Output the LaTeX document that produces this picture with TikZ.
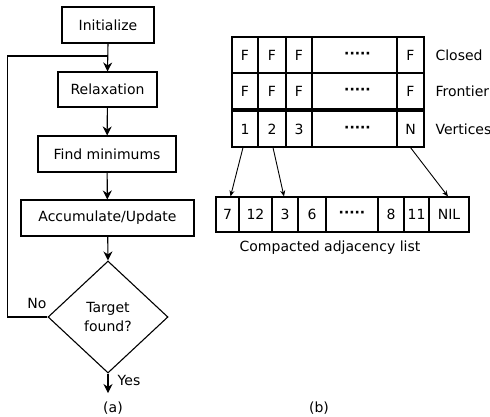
\documentclass[tikz,border=0pt]{standalone}
\usepackage{fontspec}
\setmainfont{DejaVu Sans}
\usetikzlibrary{shapes.geometric,arrows.meta}
\begin{document}
\begin{tikzpicture}[x=1pt,y=-1pt,
  every node/.style={font=\fontsize{14}{19.5}\selectfont},
  box/.style={draw, line width=1.1pt, inner sep=0pt, minimum height=36pt},
  cell/.style={draw, line width=1.1pt, inner sep=0pt, minimum height=36pt},
  flow/.style={line width=1.1pt, -{Stealth[length=9pt,width=9pt]}},
  link/.style={line width=0.9pt, -{Stealth[length=6pt,width=5pt]}},
  plain/.style={line width=1.1pt}]
\useasboundingbox (0,0) rectangle (490,416);
% flowchart
\node[box, minimum width=92pt] (init) at (108,25) {Initialize};
\node[box, minimum width=99pt, minimum height=35pt] (relax) at (107.5,89.5) {Relaxation};
\node[box, minimum width=138pt] (findmin) at (107,154) {Find minimums};
\node[box, minimum width=173pt] (accum) at (107.5,218) {Accumulate/Update};
\node[draw, diamond, line width=1.1pt, inner sep=0pt, minimum width=120pt, minimum height=112pt, align=center] (dia) at (108,317) {Target\\found?};
\coordinate (join) at (108,56);
\coordinate (out) at (108,393);
\draw[flow] (init.south) -- (relax.north);
\draw[flow] (relax) -- (findmin);
\draw[flow] (findmin) -- (accum);
\draw[flow] (accum) -- (dia.north);
\draw[flow] (dia.south) -- (out);
\draw[plain] (dia.west) -- ++(-40,0) |- (join);
\node (no) at (37,303) {No};
\node (yes) at (129,380) {Yes};
\node (capa) at (113,408) {(a)};
% table
\node[cell, minimum width=26pt] (c1) at (245,55) {F};
\node[cell, minimum width=28pt] (c2) at (272,55) {F};
\node[cell, minimum width=26pt] (c3) at (299,55) {F};
\node[cell, minimum width=85pt] (c4) at (354.5,55) {\hspace{6pt}\textbf{·····}};
\node[cell, minimum width=27pt] (c5) at (410.5,55) {F};
\node[cell, minimum width=26pt] (f1) at (245,91) {F};
\node[cell, minimum width=28pt] (f2) at (272,91) {F};
\node[cell, minimum width=26pt] (f3) at (299,91) {F};
\node[cell, minimum width=85pt] (f4) at (354.5,91) {\hspace{6pt}\textbf{·····}};
\node[cell, minimum width=27pt] (f5) at (410.5,91) {F};
\node[cell, minimum width=26pt] (v1) at (245,129) {1};
\node[cell, minimum width=28pt] (v2) at (272,129) {2};
\node[cell, minimum width=26pt] (v3) at (299,129) {3};
\node[cell, minimum width=85pt] (v4) at (354.5,129) {\hspace{6pt}\textbf{·····}};
\node[cell, minimum width=27pt] (v5) at (410.5,129) {N};
\node[anchor=west] (closed) at (432,55) {Closed};
\node[anchor=west] (frontier) at (432,91) {Frontier};
\node[anchor=west] (vertices) at (432,129) {Vertices};
% adjacency list
\node[cell, minimum width=23pt, minimum height=35pt] (a1) at (227.5,214.5) {7};
\node[cell, minimum width=33pt, minimum height=35pt] (a2) at (255.5,214.5) {12};
\node[cell, minimum width=26pt, minimum height=35pt] (a3) at (285,214.5) {3};
\node[cell, minimum width=28pt, minimum height=35pt] (a4) at (312,214.5) {6};
\node[cell, minimum width=52pt, minimum height=35pt] (a5) at (352,214.5) {\textbf{·····}};
\node[cell, minimum width=26pt, minimum height=35pt] (a6) at (391,214.5) {8};
\node[cell, minimum width=25pt, minimum height=35pt] (a7) at (416.5,214.5) {11};
\node[cell, minimum width=40pt, minimum height=35pt] (a8) at (449,214.5) {NIL};
\node (adjcap) at (330,248) {Compacted adjacency list};
\node (capb) at (319,408) {(b)};
\draw[link] ([xshift=-2pt]v1.south) -- ([xshift=3pt]a1.north);
\draw[link] ([xshift=1pt]v2.south) -- ([xshift=-1pt]a3.north);
\draw[link] (v5.south) -- ([xshift=-1pt]a8.north);
\end{tikzpicture}
\end{document}
